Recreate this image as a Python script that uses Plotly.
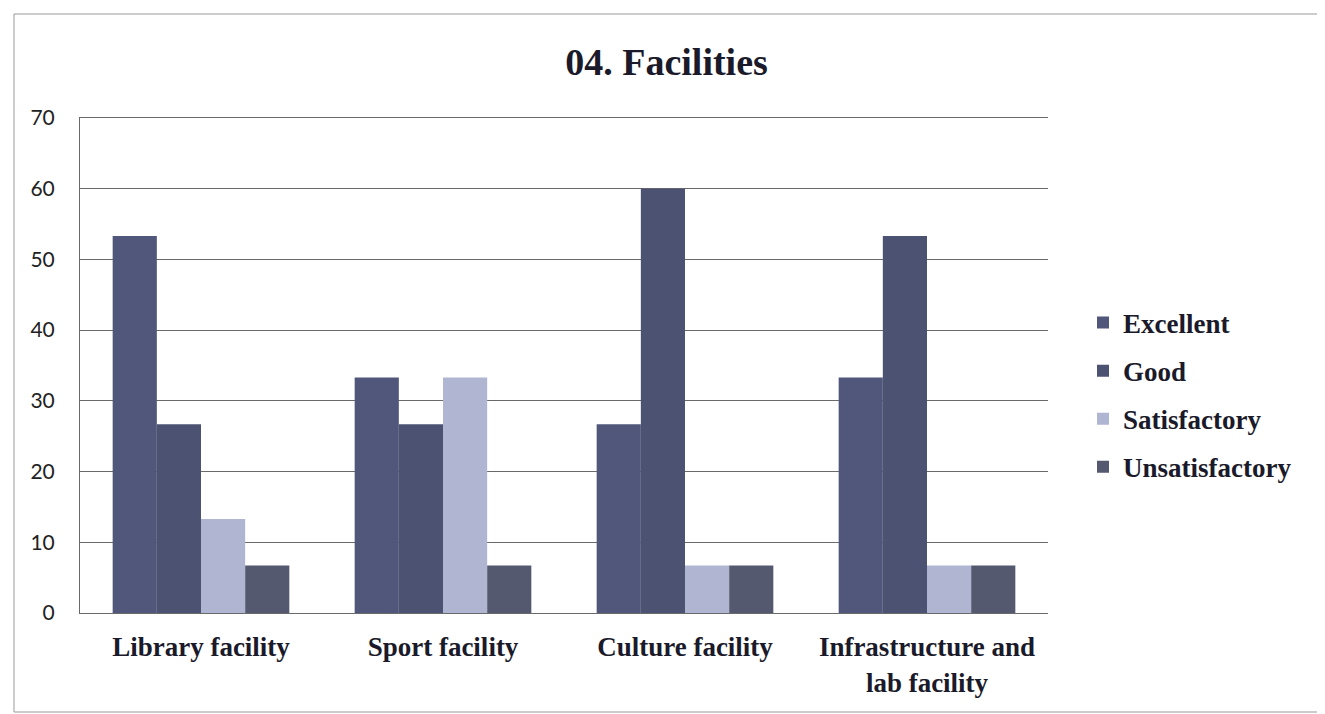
import plotly.graph_objects as go

categories = ["Library facility", "Sport facility", "Culture facility", "Infrastructure and<br>lab facility"]
series_names = ["Excellent", "Good", "Satisfactory", "Unsatisfactory"]
excellent = [53.3, 33.3, 26.7, 33.3]
good = [26.7, 26.7, 60.0, 53.3]
satisfactory = [13.3, 33.3, 6.7, 6.7]
unsatisfactory = [6.7, 6.7, 6.7, 6.7]
y_ticks = [0, 10, 20, 30, 40, 50, 60, 70]

colors = ["#50577a", "#4c5272", "#b0b5d2", "#54596f"]
values = [excellent, good, satisfactory, unsatisfactory]

fig = go.Figure()
for i, (name, vals) in enumerate(zip(series_names, values)):
    fig.add_trace(go.Bar(
        x=categories, y=vals, name=name,
        marker=dict(color=colors[i], line=dict(width=0)),
        legendgroup=name,
    ))

serif = "Liberation Serif, Times New Roman, serif"
W, H = 1317, 706
L, R, T, B = 72, 277, 110, 101
pw, ph = W - L - R, H - T - B

fig.update_layout(
    width=W, height=H,
    paper_bgcolor="white", plot_bgcolor="white",
    margin=dict(l=L, r=R, t=T, b=B),
    barmode="group", bargap=0.27, bargroupgap=0,
    title=dict(text="04. Facilities", x=0.5, xanchor="center", xref="container",
               y=1 - 54 / H, yanchor="middle", yref="container",
               font=dict(family=serif, size=38, color="#1a1a2a", weight="bold")),
    legend=dict(x=(1083 - 8 - L) / pw, y=(H - B - 387) / ph, xanchor="left", yanchor="middle",
                font=dict(family=serif, size=27, color="#1a1a2a", weight="bold"),
                tracegroupgap=10, itemwidth=30, bgcolor="rgba(0,0,0,0)"),
    xaxis=dict(showgrid=False, showline=True, mirror=True, linecolor="#6a6a6a", linewidth=1,
               ticks="", ticklabelstandoff=10,
               tickfont=dict(family=serif, size=27, color="#1a1a2a", weight="bold")),
    yaxis=dict(range=[0, 70], tickvals=y_ticks, showgrid=True, gridcolor="#6a6a6a",
               gridwidth=1, showline=True, linecolor="#6a6a6a", linewidth=1,
               ticks="", ticklabelstandoff=20,
               tickfont=dict(family="Lato, Open Sans, sans-serif", size=21, color="#222222"),
               zeroline=False),
    shapes=[dict(type="rect", xref="paper", yref="paper",
                 x0=(6 - L) / pw, y0=-(B - 2) / ph, x1=(1312 - L) / pw, y1=1 + (T - 6) / ph,
                 line=dict(color="#999999", width=1), layer="below")],
)

fig.write_html("out.html")
